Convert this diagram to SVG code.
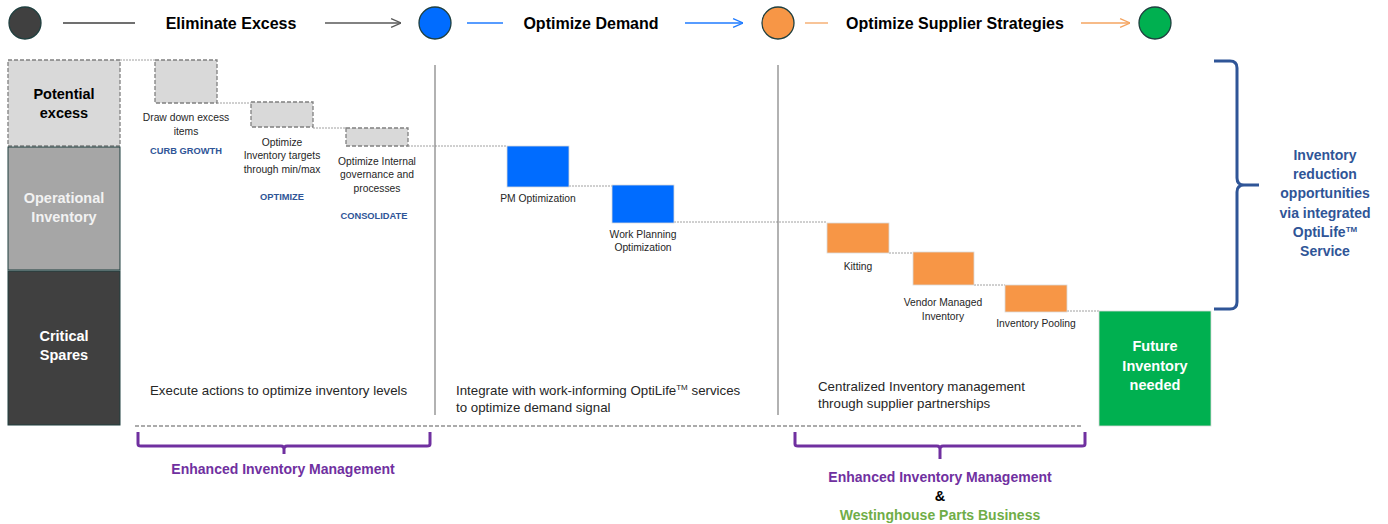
<svg xmlns="http://www.w3.org/2000/svg" width="1388" height="524" viewBox="0 0 1388 524">
<style>
text{font-family:"Liberation Sans",Arial,sans-serif;}
.hd{font-size:16px;font-weight:bold;fill:#000;text-anchor:middle;}
.lb{font-size:10.3px;fill:#262626;text-anchor:middle;}
.tag{font-size:9.3px;font-weight:bold;fill:#2F5597;text-anchor:middle;}
.cap{font-size:13.3px;fill:#262626;}
.col{font-size:14.5px;font-weight:bold;text-anchor:middle;}
.pur{font-size:14px;font-weight:bold;fill:#7030A0;text-anchor:middle;}
.blu{font-size:14px;font-weight:bold;fill:#2F5597;text-anchor:middle;}
.dot{stroke:#A0A0A0;stroke-width:1;stroke-dasharray:2 1;fill:none;}
.gbox{fill:#D9D9D9;stroke:#808080;stroke-width:1.3;stroke-dasharray:4 2;}
</style>
<defs>
<marker id="ahd" viewBox="0 0 10 10" refX="10" refY="5" markerWidth="11" markerHeight="11" markerUnits="userSpaceOnUse" orient="auto"><path d="M1,1 L10,5 L1,9" fill="none" stroke="#595959" stroke-width="1.2"/></marker>
<marker id="ahb" viewBox="0 0 10 10" refX="10" refY="5" markerWidth="11" markerHeight="11" markerUnits="userSpaceOnUse" orient="auto"><path d="M1,1 L10,5 L1,9" fill="none" stroke="#1F7BFF" stroke-width="1.2"/></marker>
<marker id="aho" viewBox="0 0 10 10" refX="10" refY="5" markerWidth="11" markerHeight="11" markerUnits="userSpaceOnUse" orient="auto"><path d="M1,1 L10,5 L1,9" fill="none" stroke="#F4A460" stroke-width="1.2"/></marker>
</defs>

<g id="header">
<circle cx="25" cy="23" r="16" fill="#404040" stroke="#1F3F3F" stroke-width="1.3"/>
<line x1="63" y1="23" x2="135" y2="23" stroke="#404040" stroke-width="1.3"/>
<text class="hd" x="231" y="29">Eliminate Excess</text>
<line x1="325" y1="23" x2="401" y2="23" stroke="#595959" stroke-width="1.3" marker-end="url(#ahd)"/>
<circle cx="435" cy="23" r="16" fill="#006CFF" stroke="#1F3F3F" stroke-width="1.3"/>
<line x1="467" y1="23" x2="503" y2="23" stroke="#1F7BFF" stroke-width="1.3"/>
<text class="hd" x="591" y="29">Optimize Demand</text>
<line x1="685" y1="23" x2="743" y2="23" stroke="#1F7BFF" stroke-width="1.3" marker-end="url(#ahb)"/>
<circle cx="778" cy="23" r="16" fill="#F79646" stroke="#1F3F3F" stroke-width="1.3"/>
<line x1="805" y1="23" x2="828" y2="23" stroke="#F4A460" stroke-width="1.3"/>
<text class="hd" x="955" y="29">Optimize Supplier Strategies</text>
<line x1="1081" y1="23" x2="1130" y2="23" stroke="#F4A460" stroke-width="1.3" marker-end="url(#aho)"/>
<circle cx="1155" cy="23" r="16" fill="#00B050" stroke="#1F3F3F" stroke-width="1.3"/>
</g>

<g id="potential-excess">
<rect x="8" y="60" width="112" height="86" class="gbox"/>
<text class="col" x="64" y="99" fill="#000">Potential</text>
<text class="col" x="64" y="118" fill="#000">excess</text>
</g>
<g id="operational-inventory">
<rect x="8" y="147" width="112" height="123" fill="#A6A6A6" stroke="#1F3F3F" stroke-width="1"/>
<text class="col" x="64" y="203" fill="#F2F2F2">Operational</text>
<text class="col" x="64" y="222" fill="#F2F2F2">Inventory</text>
</g>
<g id="critical-spares">
<rect x="8" y="271" width="112" height="154" fill="#404040" stroke="#1F3F3F" stroke-width="1"/>
<text class="col" x="64" y="341" fill="#FFFFFF">Critical</text>
<text class="col" x="64" y="360" fill="#FFFFFF">Spares</text>
</g>

<g id="connectors">
<path class="dot" d="M120,60 H155 M217,103 H251 M313,128 H346 M408,146 H507 M569,186 H612 M674,222 H827 M889,253 H913 M974,285 H1005 M1067,311 H1099"/>
<line x1="435" y1="65" x2="435" y2="415" stroke="#7F7F7F" stroke-width="1.2"/>
<line x1="778" y1="65" x2="778" y2="415" stroke="#7F7F7F" stroke-width="1.2"/>
<line x1="135" y1="426" x2="1083" y2="426" stroke="#595959" stroke-width="1.2" stroke-dasharray="4 2"/>
</g>

<g id="draw-down">
<rect x="155" y="60" width="62" height="43" class="gbox"/>
<text class="lb" x="186" y="121">Draw down excess</text>
<text class="lb" x="186" y="135">items</text>
<text class="tag" x="186" y="154">CURB GROWTH</text>
</g>
<g id="optimize-targets">
<rect x="251" y="102" width="62" height="25" class="gbox"/>
<text class="lb" x="282" y="146">Optimize</text>
<text class="lb" x="282" y="159">Inventory targets</text>
<text class="lb" x="282" y="173">through min/max</text>
<text class="tag" x="282" y="200">OPTIMIZE</text>
</g>
<g id="optimize-governance">
<rect x="346" y="128" width="62" height="18" class="gbox"/>
<text class="lb" x="377" y="165">Optimize Internal</text>
<text class="lb" x="377" y="178">governance and</text>
<text class="lb" x="377" y="192">processes</text>
<text class="tag" x="374" y="219">CONSOLIDATE</text>
</g>

<g id="pm-optimization">
<rect x="507" y="146" width="62" height="41" fill="#006CFF" stroke="#D9D9D9" stroke-width="0.8"/>
<text class="lb" x="538" y="202">PM Optimization</text>
</g>
<g id="work-planning">
<rect x="612" y="185" width="62" height="38" fill="#006CFF" stroke="#D9D9D9" stroke-width="0.8"/>
<text class="lb" x="643" y="238">Work Planning</text>
<text class="lb" x="643" y="251">Optimization</text>
</g>

<g id="kitting">
<rect x="827" y="223" width="62" height="30" fill="#F79646" stroke="#D9D9D9" stroke-width="0.8"/>
<text class="lb" x="858" y="270">Kitting</text>
</g>
<g id="vendor-managed">
<rect x="913" y="252" width="61" height="33" fill="#F79646" stroke="#D9D9D9" stroke-width="0.8"/>
<text class="lb" x="943" y="306">Vendor Managed</text>
<text class="lb" x="943" y="320">Inventory</text>
</g>
<g id="inventory-pooling">
<rect x="1005" y="285" width="62" height="27" fill="#F79646" stroke="#D9D9D9" stroke-width="0.8"/>
<text class="lb" x="1036" y="327">Inventory Pooling</text>
</g>

<g id="future-inventory">
<rect x="1099" y="311" width="112" height="115" fill="#00B050" stroke="#D9D9D9" stroke-width="0.8"/>
<text class="col" x="1155" y="351" fill="#FFFFFF">Future</text>
<text class="col" x="1155" y="371" fill="#FFFFFF">Inventory</text>
<text class="col" x="1155" y="390" fill="#FFFFFF">needed</text>
</g>

<g id="captions">
<text class="cap" x="150" y="395">Execute actions to optimize inventory levels</text>
<text class="cap" x="456" y="395">Integrate with work-informing OptiLife<tspan font-size="8" dy="-5">TM</tspan><tspan dy="5"> services</tspan></text>
<text class="cap" x="456" y="412">to optimize demand signal</text>
<text class="cap" x="818" y="391">Centralized Inventory management</text>
<text class="cap" x="818" y="408">through supplier partnerships</text>
</g>

<g id="brace-left">
<path d="M138,432 V444 Q138,446 141,446 H281 Q284,446 284,449 V454 M284,449 Q284,446 287,446 H427 Q430,446 430,444 V432" fill="none" stroke="#7030A0" stroke-width="3"/>
<text class="pur" x="283" y="474">Enhanced Inventory Management</text>
</g>
<g id="brace-right">
<path d="M795,432 V444 Q795,446 798,446 H937 Q940,446 940,449 V459 M940,449 Q940,446 943,446 H1082 Q1085,446 1085,444 V432" fill="none" stroke="#7030A0" stroke-width="3"/>
<text class="pur" x="940" y="482">Enhanced Inventory Management</text>
<text class="col" x="940" y="501" fill="#000" font-size="12">&amp;</text>
<text class="pur" x="940" y="520" style="fill:#70AD47">Westinghouse Parts Business</text>
</g>

<g id="brace-opportunities">
<path d="M1214,61 H1230 Q1237,61 1237,68 V178 Q1237,185 1244,185 H1259 M1244,185 Q1237,185 1237,192 V302 Q1237,309 1230,309 H1214" fill="none" stroke="#2F5597" stroke-width="3"/>
<text class="blu" x="1325" y="160">Inventory</text>
<text class="blu" x="1325" y="179">reduction</text>
<text class="blu" x="1325" y="198">opportunities</text>
<text class="blu" x="1325" y="218">via integrated</text>
<text class="blu" x="1325" y="237">OptiLife<tspan font-size="8" dy="-5">TM</tspan></text>
<text class="blu" x="1325" y="256">Service</text>
</g>
</svg>
